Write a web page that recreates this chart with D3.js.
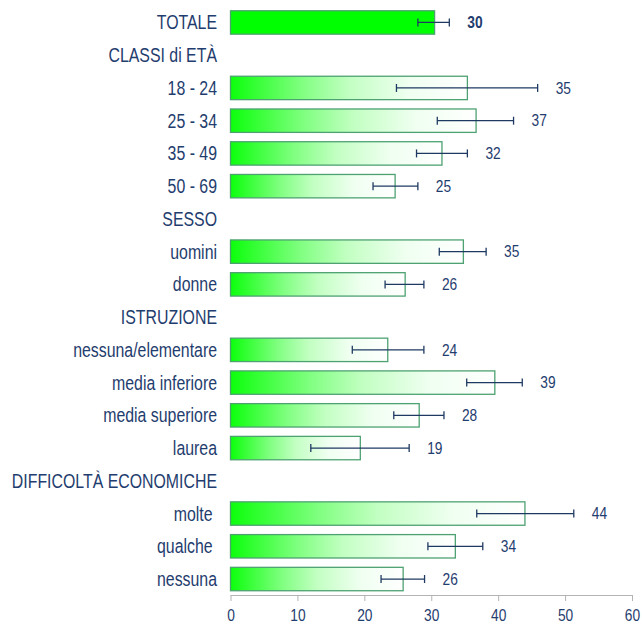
<!DOCTYPE html>
<html>
<head>
<meta charset="utf-8">
<script src="https://cdn.jsdelivr.net/npm/d3@7"></script>
<style>
  body { margin: 0; background: #fff; }
  text { font-family: "Liberation Sans", Arial, sans-serif; fill: #1f3d6e; white-space: pre; }
</style>
</head>
<body>
<script>
const w = 642;
const h = 628;

// righe del grafico (le intestazioni non hanno barra)
const labels = ["TOTALE", "CLASSI di ETÀ", "18 - 24", "25 - 34", "35 - 49", "50 - 69",
  "SESSO", "uomini", "donne", "ISTRUZIONE", "nessuna/elementare", "media inferiore",
  "media superiore", "laurea", "DIFFICOLTÀ ECONOMICHE", "molte ", "qualche ", "nessuna"];
const values = [30.5, null, 35.4, 36.7, 31.6, 24.6, null, 34.8, 26.1, null, 23.5, 39.5, 28.2, 19.4, null, 44.0, 33.6, 25.8];
const lows = [28.0, null, 24.8, 30.9, 27.8, 21.3, null, 31.2, 23.1, null, 18.2, 35.3, 24.4, 12.0, null, 36.8, 29.5, 22.5];
const highs = [32.7, null, 45.9, 42.3, 35.4, 28.0, null, 38.2, 28.9, null, 28.9, 43.6, 31.9, 26.7, null, 51.3, 37.7, 29.0];
const valueLabels = ["30", null, "35", "37", "32", "25", null, "35", "26", null, "24", "39", "28", "19", null, "44", "34", "26"];
const xTicks = [0, 10, 20, 30, 40, 50, 60];

const rows = labels.map((l, i) => ({
  label: l, value: values[i], lo: lows[i], hi: highs[i], txt: valueLabels[i], i: i
}));

const svg = d3.select("body").append("svg").attr("width", w).attr("height", h);

const xScale = d3.scaleLinear().domain([0, 60]).range([230.5, 632]);
const yScale = d3.scaleBand()
  .domain(d3.range(labels.length))
  .range([6.1, 595.4])
  .paddingInner(0.285)
  .paddingOuter(0.1425);

// gradiente verde -> bianco
const grad = svg.append("defs").append("linearGradient").attr("id", "g1");
[[0, "#0cff0c"], [0.3, "#80ff80"], [0.5, "#c2ffc2"], [0.75, "#effff0"], [1, "#ffffff"]]
  .forEach(s => grad.append("stop").attr("offset", s[0]).attr("stop-color", s[1]));

const cy = d => yScale(d.i) + yScale.bandwidth() / 2;

// etichette categorie (testo condensato)
svg.selectAll("text.cat")
  .data(rows)
  .enter()
  .append("text")
  .attr("class", "cat")
  .attr("text-anchor", "end")
  .attr("dy", "0.36em")
  .attr("transform", d => "translate(217," + cy(d) + ") scale(0.815,1)")
  .style("font-size", "19.5px")
  .text(d => d.label);

const data = rows.filter(d => d.value != null);

// barre
svg.selectAll("rect.bar")
  .data(data)
  .enter()
  .append("rect")
  .attr("class", "bar")
  .attr("x", xScale(0))
  .attr("y", d => yScale(d.i))
  .attr("width", d => xScale(d.value) - xScale(0))
  .attr("height", yScale.bandwidth())
  .attr("fill", d => d.i === 0 ? "#00ff00" : "url(#g1)")
  .attr("stroke", "#4ea272")
  .attr("stroke-width", 1.3);

// barre di errore
const eb = svg.append("g").attr("stroke", "#1f3a62").attr("stroke-width", 1.3);
eb.selectAll("line.h")
  .data(data)
  .enter()
  .append("line")
  .attr("x1", d => xScale(d.lo))
  .attr("x2", d => xScale(d.hi))
  .attr("y1", cy)
  .attr("y2", cy);
["lo", "hi"].forEach(k => {
  eb.selectAll("line." + k)
    .data(data)
    .enter()
    .append("line")
    .attr("x1", d => xScale(d[k]))
    .attr("x2", d => xScale(d[k]))
    .attr("y1", d => cy(d) - 4)
    .attr("y2", d => cy(d) + 4);
});

// valori
svg.selectAll("text.val")
  .data(data)
  .enter()
  .append("text")
  .attr("class", "val")
  .attr("dy", "0.36em")
  .attr("transform", d => "translate(" + (xScale(d.hi) + 18) + "," + cy(d) + ") scale(0.86,1)")
  .style("font-size", "16px")
  .style("font-weight", d => d.i === 0 ? "bold" : "normal")
  .text(d => d.txt);

// asse x
const xAxis = d3.axisBottom(xScale).tickValues(xTicks).tickSize(6).tickPadding(0).tickFormat(d3.format("d"));
const ax = svg.append("g")
  .attr("transform", "translate(0,595)")
  .call(xAxis);
ax.select(".domain").attr("stroke", "#b4b4b4").attr("d", "M" + xScale(0) + ",0.5H" + xScale(60));
ax.selectAll(".tick line").attr("stroke", "#b4b4b4");
ax.selectAll(".tick text").remove();
ax.selectAll(".tick")
  .append("text")
  .attr("text-anchor", "middle")
  .attr("transform", "translate(0,26) scale(0.86,1)")
  .style("font-size", "16px")
  .attr("fill", "#1f3d6e")
  .text(d => d);
</script>
</body>
</html>
